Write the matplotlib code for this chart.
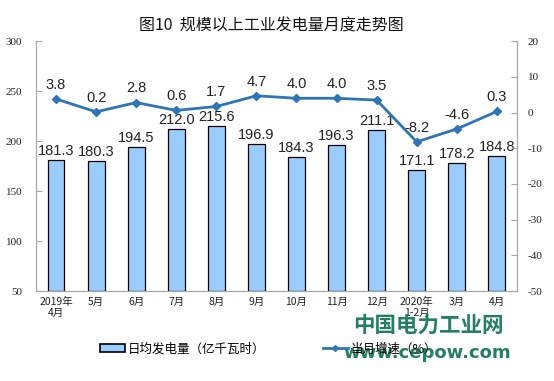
import numpy as np
import matplotlib
matplotlib.use("Agg")
import matplotlib.pyplot as plt
from matplotlib.patches import Patch
from matplotlib.lines import Line2D

plt.rcParams['font.family'] = ['Noto Sans CJK SC', 'DejaVu Sans']
plt.rcParams['axes.unicode_minus'] = False

# data
months = ["2019年\n4月", "5月", "6月", "7月", "8月", "9月", "10月", "11月",
          "12月", "2020年\n1-2月", "3月", "4月"]
daily_gen = [181.3, 180.3, 194.5, 212.0, 215.6, 196.9, 184.3, 196.3, 211.1, 171.1, 178.2, 184.8]
growth = [3.8, 0.2, 2.8, 0.6, 1.7, 4.7, 4.0, 4.0, 3.5, -8.2, -4.6, 0.3]
left_ticks = [50, 100, 150, 200, 250, 300]
right_ticks = [-50, -40, -30, -20, -10, 0, 10, 20]

bar_color = '#99CCFF'
line_color = '#2E75B6'
axis_gray = '#A6A6A6'

fig = plt.figure(figsize=(5.54, 3.81), dpi=100)
ax = fig.add_axes([0.065, 0.236, 0.868, 0.656])
ax2 = ax.twinx()

x = np.arange(len(months))
ax.bar(x, [v - 50 for v in daily_gen], bottom=50, width=0.42, color=bar_color,
       edgecolor='black', linewidth=0.9, zorder=2)
for xi, v in zip(x, daily_gen):
    ax.text(xi, v + 2, f"{v:.1f}", ha='center', va='bottom', fontsize=10.5,
            family='Liberation Sans', color='#222222')

ax.set_xlim(-0.5, len(months) - 0.5)
ax.set_ylim(50, 300)
ax.set_yticks(left_ticks)
ax.set_xticks(x)
ax.set_xticklabels(months, fontsize=7.5, linespacing=1.1)

ax2.plot(x, growth, color=line_color, lw=2, marker='D', ms=4.5, zorder=3)
for xi, v in zip(x, growth):
    ax2.text(xi, v + 2.0, f"{v:.1f}", ha='center', va='bottom', fontsize=10.5,
             family='Liberation Sans', color='#222222')
ax2.set_ylim(-50, 20)
ax2.set_yticks(right_ticks)

for a in (ax, ax2):
    for s in a.spines.values():
        s.set_color(axis_gray)
    a.spines['top'].set_visible(False)
    a.tick_params(colors=axis_gray, labelcolor='#222222', direction='in', length=4)
ax.tick_params(axis='x', length=0, pad=4)
ax.tick_params(axis='y', pad=10)
ax2.tick_params(axis='y', pad=8)
for lbl in ax.get_yticklabels() + ax2.get_yticklabels():
    lbl.set_family('Liberation Serif')
    lbl.set_fontsize(8)

fig.text(0.49, 0.933, "图10  规模以上工业发电量月度走势图", ha='center', va='center',
         fontsize=11.5, color='#111111')

handles = [Patch(facecolor=bar_color, edgecolor='black', linewidth=1.2),
           Line2D([0], [0], color=line_color, lw=2, marker='D', ms=3)]
fig.legend(handles, ["日均发电量（亿千瓦时）", "当月增速（%）"], loc='center',
           bbox_to_anchor=(0.485, 0.084), ncol=2, frameon=False, fontsize=9,
           handlelength=2.0, handleheight=0.6, columnspacing=4.6, handletextpad=0.2)

# watermark
fig.text(0.773, 0.147, "中国电力工业网", ha='center', va='center', fontsize=15.5,
         fontweight='bold', color='#17785A', alpha=0.95)
fig.text(0.771, 0.073, "www.cepow.com", ha='center', va='center', fontsize=13,
         fontweight='bold', color='#17785A', family='DejaVu Sans', alpha=0.95)

fig.savefig("out.png", dpi=100)
